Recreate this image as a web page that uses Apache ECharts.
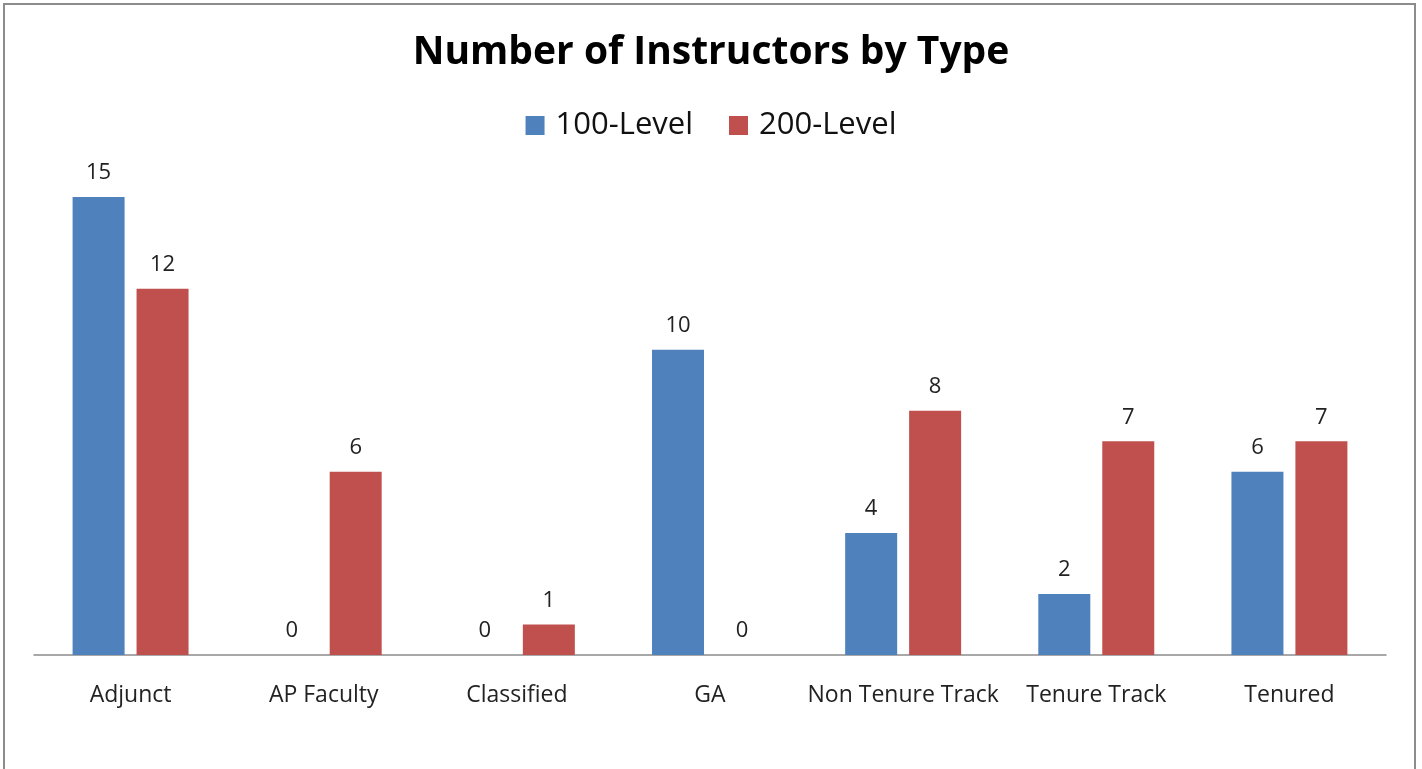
<!DOCTYPE html>
<html>
<head>
<meta charset="utf-8">
<script src="https://cdn.jsdelivr.net/npm/echarts@6/dist/echarts.min.js"></script>
<style>
  html, body { margin: 0; padding: 0; background: #fff; }
  #chart { width: 1422px; height: 769px; }
  #frame {
    position: absolute; left: 3px; top: 3px; width: 1409px; height: 800px;
    border: 2px solid #8c8c8c; pointer-events: none;
  }
</style>
</head>
<body>
<div id="chart"></div>
<div id="frame"></div>
<script>
const categories = ['Adjunct', 'AP Faculty', 'Classified', 'GA', 'Non Tenure Track', 'Tenure Track', 'Tenured']
const level100 = [15, 0, 0, 10, 4, 2, 6]
const level200 = [12, 6, 1, 0, 8, 7, 7]

const font = '"Open Sans", sans-serif'
const chart = echarts.init(document.getElementById('chart'))

const valueLabel = {
  show: true,
  position: 'top',
  distance: 13,
  color: '#222',
  fontSize: 22,
  fontFamily: font
}

chart.setOption({
  animation: false,
  color: ['#4F81BD', '#C0504D'],
  title: {
    text: 'Number of Instructors by Type',
    left: 'center',
    top: 28,
    textStyle: { fontSize: 39, fontWeight: 'bold', color: '#000', fontFamily: font }
  },
  legend: {
    top: 105,
    left: 'center',
    itemWidth: 19,
    itemHeight: 19,
    itemGap: 36,
    icon: 'rect',
    textStyle: { fontSize: 31, color: '#111', fontFamily: font, padding: [0, 0, 0, 6] },
    data: ['100-Level', '200-Level']
  },
  grid: { left: 34, right: 36, top: 166.5, bottom: 114 },
  xAxis: {
    type: 'category',
    data: categories,
    axisLine: { lineStyle: { color: '#8c8c8c', width: 1.5 } },
    axisTick: { show: false },
    axisLabel: { interval: 0, margin: 29, fontSize: 23, color: '#222', fontFamily: font }
  },
  yAxis: {
    type: 'value',
    min: 0,
    max: 16,
    show: false,
    splitLine: { show: false }
  },
  series: [
    {
      name: '100-Level',
      type: 'bar',
      data: level100,
      barWidth: 52,
      barGap: '23%',
      label: valueLabel
    },
    {
      name: '200-Level',
      type: 'bar',
      data: level200,
      barWidth: 52,
      label: valueLabel
    }
  ]
})
</script>
</body>
</html>
